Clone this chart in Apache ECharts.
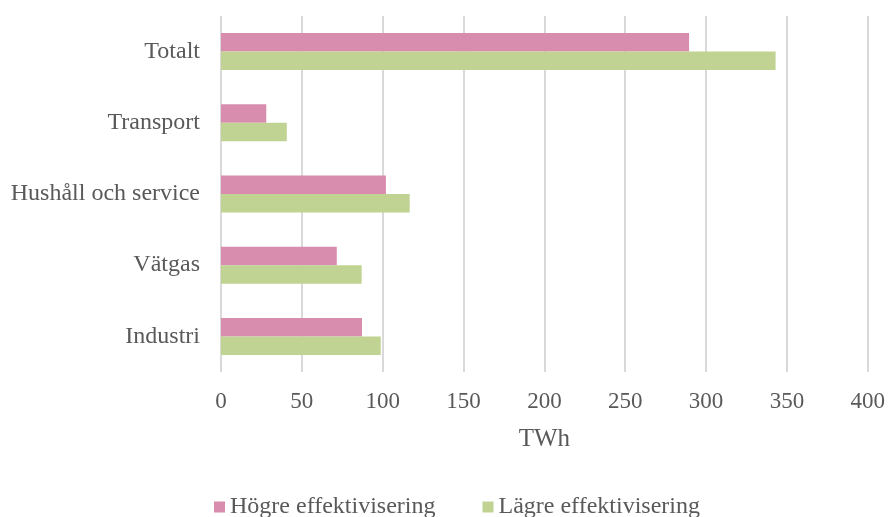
<!DOCTYPE html>
<html>
<head>
<meta charset="utf-8">
<script src="https://cdn.jsdelivr.net/npm/echarts@6/dist/echarts.min.js"></script>
<style>html,body{margin:0;padding:0;background:#fff;}#c{width:888px;height:517px;}</style>
</head>
<body>
<div id="c"></div>
<script>
const categories = ['Totalt', 'Transport', 'Hushåll och service', 'Vätgas', 'Industri'];
const hogre = [289.5, 28, 102, 71.6, 87.2];
const lagre = [343, 40.7, 116.7, 87, 98.8];
const seriesNames = ['Högre effektivisering', 'Lägre effektivisering'];
const axisName = 'TWh';

const font = 'Liberation Serif';
const txt = '#595959';
const chart = echarts.init(document.getElementById('c'));
chart.setOption({
  animation: false,
  textStyle: { fontFamily: font },
  grid: { left: 221, right: 19, top: 16, bottom: 145, containLabel: false },
  legend: {
    bottom: -7, left: 209,
    itemWidth: 11, itemHeight: 11, itemGap: 47,
    icon: 'rect',
    textStyle: { fontFamily: font, fontSize: 24, color: txt, padding: [0, 0, 0, 0] },
    data: seriesNames
  },
  xAxis: {
    type: 'value', min: 0, max: 400, interval: 50,
    name: axisName, nameLocation: 'middle', nameGap: 55,
    nameTextStyle: { fontFamily: font, fontSize: 25, color: txt },
    axisLine: { show: false },
    axisTick: { show: false },
    axisLabel: { fontFamily: font, fontSize: 23, color: txt, margin: 18 },
    splitLine: { lineStyle: { color: '#d9d9d9', width: 2 } }
  },
  yAxis: {
    type: 'category', data: categories, inverse: true,
    axisLine: { show: false },
    axisTick: { show: false },
    axisLabel: { fontFamily: font, fontSize: 24, color: txt, margin: 21 }
  },
  series: [
    { name: seriesNames[0], type: 'bar', data: hogre, barGap: '0%', barCategoryGap: '48%',
      itemStyle: { color: '#d88daf' } },
    { name: seriesNames[1], type: 'bar', data: lagre, barGap: '0%', barCategoryGap: '48%',
      itemStyle: { color: '#c0d392' } }
  ]
});
</script>
</body>
</html>
